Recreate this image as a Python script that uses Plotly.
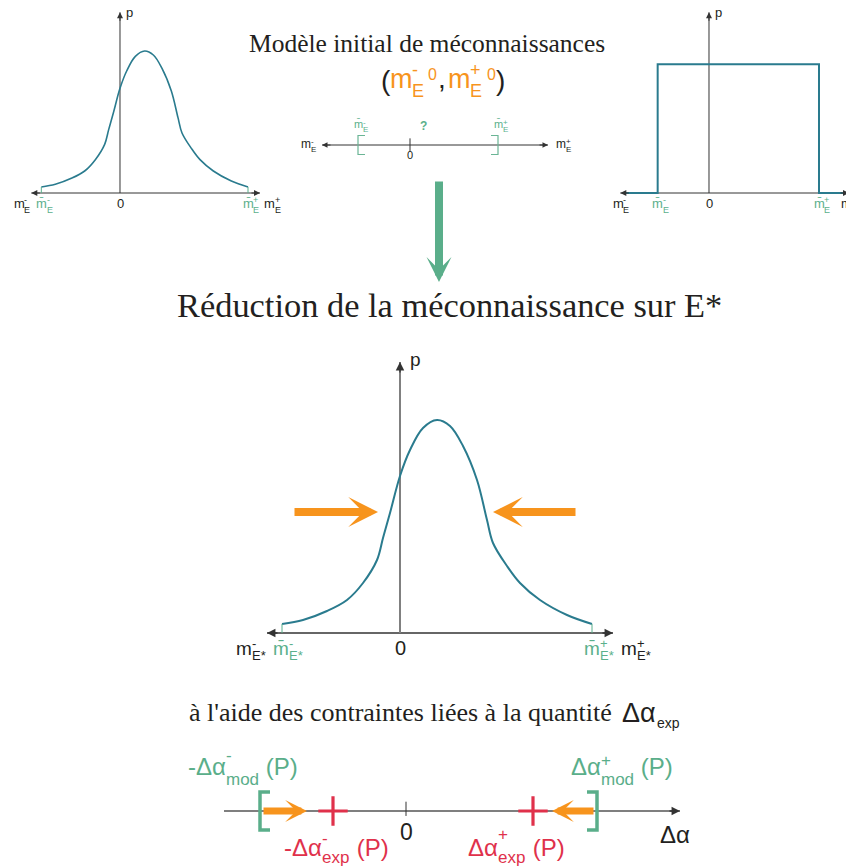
import plotly.graph_objects as go

W, H = 854, 867          # reference picture size
OFF = 8                  # page body margin of the browser
FW, FH = W - OFF, H - OFF   # actual figure size (reaches the window's right/bottom edge)

# ---------------- data ----------------
# shape of the probability density (m, p)
curve_m = [-1.18, -0.97, -0.73, -0.53, -0.37, -0.23, -0.17, -0.10, 0.00, 0.10, 0.23,
           0.37, 0.50, 0.63, 0.77, 0.87, 0.93, 1.07, 1.20, 1.40, 1.67, 1.92]
curve_p = [0.09, 0.13, 0.22, 0.33, 0.50, 0.73, 0.95, 1.20, 1.57, 1.83, 2.05,
           2.13, 2.07, 1.87, 1.53, 1.13, 0.90, 0.67, 0.50, 0.33, 0.18, 0.09]
mbar_bounds = [-1.18, 1.92]          # m̄-, m̄+ of the curved densities
uniform_m = [-1.25, -0.77, -0.77, 1.65, 1.65, 2.08]
uniform_p = [0.0, 0.0, 1.93, 1.93, 0.0, 0.0]
uniform_bounds = [-0.77, 1.65]
mini_bounds = [-0.52, 0.88]          # interval on the small initial axis
mod_bounds = [-1.46, 1.91]           # -Δα_mod-, Δα_mod+
exp_bounds = [-0.73, 1.27]           # -Δα_exp-, Δα_exp+

# ---------------- style ----------------
TEAL = '#2a7b8e'
GREEN = '#5bb08c'
GREEN2 = '#5aae8a'
ORANGE = '#f7941d'
RED = '#e0314b'
INK = '#231f20'
SANS = 'Liberation Sans'
SERIF = 'Liberation Serif'

# panel geometry (in picture pixels): origin, pixels per unit, ranges
PANELS = {
    1: dict(o=(120, 193), s=(66.67, 66.67), xr=(-1.6, 2.35), yr=(-0.3, 2.85)),
    2: dict(o=(709, 193), s=(66.67, 66.67), xr=(-1.6, 2.15), yr=(-0.3, 2.85)),
    3: dict(o=(400, 633), s=(100, 100), xr=(-1.6, 2.35), yr=(-0.3, 2.85)),
    4: dict(o=(410, 145), s=(100, 19), xr=(-1.0, 1.5), yr=(-1.0, 1.0)),
    5: dict(o=(406, 811), s=(100, 19), xr=(-2.0, 2.9), yr=(-1.5, 1.5)),
}


def fx(px):
    return (px - OFF) / FW


def fy(py):
    return 1 - (py - OFF) / FH


def xid(k):
    return 'x' if k == 1 else f'x{k}'


def yid(k):
    return 'y' if k == 1 else f'y{k}'


def X(k, v):
    p = PANELS[k]
    return p['o'][0] + v * p['s'][0]


fig = go.Figure()
layout_axes = {}
for k, p in PANELS.items():
    (ox, oy), (sx, sy) = p['o'], p['s']
    xd = [fx(ox + p['xr'][0] * sx), fx(ox + p['xr'][1] * sx)]
    yd = [fy(oy - p['yr'][0] * sy), fy(oy - p['yr'][1] * sy)]
    xd = [max(0, xd[0]), min(1, xd[1])]
    yd = [max(0, yd[0]), min(1, yd[1])]
    xname = 'xaxis' if k == 1 else f'xaxis{k}'
    yname = 'yaxis' if k == 1 else f'yaxis{k}'
    # recompute ranges so that the clipped domains keep the same scale
    xr = [(xd[0] * FW + OFF - ox) / sx, (xd[1] * FW + OFF - ox) / sx]
    yr = [(oy - ((1 - yd[0]) * FH + OFF)) / sy, (oy - ((1 - yd[1]) * FH + OFF)) / sy]
    layout_axes[xname] = dict(domain=xd, range=xr, visible=False,
                              anchor=yid(k), fixedrange=True)
    layout_axes[yname] = dict(domain=yd, range=yr, visible=False,
                              anchor=xid(k), fixedrange=True)

shapes = []
ann = []


def line(k, x0, y0, x1, y1, color, width):
    shapes.append(dict(type='line', xref=xid(k), yref=yid(k), x0=x0, y0=y0, x1=x1, y1=y1,
                       line=dict(color=color, width=width), layer='below'))


def head(k, x, y, dx, dy, color, width=1, size=1.2, style=2):
    ann.append(dict(xref=xid(k), yref=yid(k), x=x, y=y, ax=dx, ay=dy, axref='pixel',
                    ayref='pixel', text='', showarrow=True, arrowhead=style,
                    arrowsize=size, arrowwidth=width, arrowcolor=color, standoff=0))


def fat_arrow(k, x_tail, x_tip, y, color, width, size):
    ann.append(dict(xref=xid(k), yref=yid(k), x=x_tip, y=y, ax=x_tail, ay=y,
                    axref=xid(k), ayref=yid(k), text='', showarrow=True, arrowhead=3,
                    arrowsize=size, arrowwidth=width, arrowcolor=color, standoff=0))


CW = {'m': .833, 'E': .667, '*': .389, '-': .333, '+': .584, '0': .556, '(': .333,
      ')': .333, ',': .278, ' ': .278, 'P': .667, 'Δ': .668, 'α': .6, 'e': .556,
      'x': .5, 'p': .556, 'o': .556, 'd': .556, '?': .611, '\u0304': 0}


def tw(s, size):
    return sum(CW.get(c, .556) for c in s) * size


def txt(x, base, s, color, size, family=SANS, anchor='left'):
    ann.append(dict(xref='paper', yref='paper', x=fx(x), y=fy(base - 0.35 * size),
                    text=s, showarrow=False, xanchor=anchor, yanchor='middle', borderpad=0,
                    font=dict(family=family, size=size, color=color)))


def ctxt(x, yc, s, color, size, family=SANS, anchor='left'):
    ann.append(dict(xref='paper', yref='paper', x=fx(x), y=fy(yc),
                    text=s, showarrow=False, xanchor=anchor, yanchor='middle', borderpad=0,
                    font=dict(family=family, size=size, color=color)))


def stacked(x, base, b, sup, sub, color, size, ss, sup_c, sub_b, tail='', anchor='left'):
    wb = tw(b, size)
    ws = max(tw(sup, ss), tw(sub, ss))
    wt = tw(tail, size)
    if anchor == 'center':
        x = x - (wb + ws + wt) / 2
    txt(x, base, b, color, size)
    x1 = x + wb
    ctxt(x1, base - sup_c, sup, color, ss)
    txt(x1, base + sub_b, sub, color, ss)
    if tail:
        txt(x1 + ws, base, tail, color, size)


MBAR = 'm\u0304'

# ---------------- panel 1 : initial density (curve) ----------------
fig.add_trace(go.Scatter(x=curve_m, y=curve_p, mode='lines', xaxis='x', yaxis='y',
                         line=dict(color=TEAL, width=1.6, shape='spline', smoothing=1.0)))
fig.add_trace(go.Scatter(x=[mbar_bounds[0], mbar_bounds[0], None, mbar_bounds[1], mbar_bounds[1]],
                         y=[0, curve_p[0], None, 0, curve_p[-1]], mode='lines', xaxis='x',
                         yaxis='y', line=dict(color=GREEN, width=1)))
# ---------------- panel 2 : initial density (uniform) ----------------
fig.add_trace(go.Scatter(x=uniform_m, y=uniform_p, mode='lines', xaxis='x2', yaxis='y2',
                         line=dict(color=TEAL, width=2)))
# ---------------- panel 3 : reduced density ----------------
fig.add_trace(go.Scatter(x=curve_m, y=curve_p, mode='lines', xaxis='x3', yaxis='y3',
                         line=dict(color=TEAL, width=2, shape='spline', smoothing=1.0)))
fig.add_trace(go.Scatter(x=[mbar_bounds[0], mbar_bounds[0], None, mbar_bounds[1], mbar_bounds[1]],
                         y=[0, curve_p[0], None, 0, curve_p[-1]], mode='lines', xaxis='x3',
                         yaxis='y3', line=dict(color=GREEN, width=1)))
# ---------------- panel 4 : small initial interval ----------------
a, b = mini_bounds
fig.add_trace(go.Scatter(x=[a + 0.07, a, a, a + 0.07, None, b - 0.07, b, b, b - 0.07],
                         y=[0.5, 0.5, -0.5, -0.5, None, 0.5, 0.5, -0.5, -0.5], mode='lines',
                         xaxis='x4', yaxis='y4', line=dict(color='#6ab595', width=1.2)))
# ---------------- panel 5 : Δα axis ----------------
a, b = mod_bounds
fig.add_trace(go.Scatter(x=[a + 0.1, a, a, a + 0.1, None, b - 0.1, b, b, b - 0.1],
                         y=[1, 1, -1, -1, None, 1, 1, -1, -1], mode='lines',
                         xaxis='x5', yaxis='y5', line=dict(color=GREEN2, width=3.5)))
fig.add_trace(go.Scatter(x=exp_bounds, y=[0, 0], mode='markers', xaxis='x5', yaxis='y5',
                         marker=dict(symbol='cross-thin', size=21,
                                     line=dict(color=RED, width=3.2))))

# ---------------- axes (lines + heads) ----------------
for k in (1, 2):
    line(k, -1.33, 0, 2.1, 0, '#333333', 1)
    line(k, 0, 0, 0, 2.71, '#333333', 1)
    head(k, 2.1, 0, -10, 0, '#333333')
    head(k, -1.33, 0, 10, 0, '#333333')
    head(k, 0, 2.71, 0, 10, '#333333')
line(3, -1.33, 0, 2.13, 0, '#333333', 1.3)
line(3, 0, 0, 0, 2.71, '#808080', 2)
head(3, 2.13, 0, -12, 0, '#333333', 1.3, 1.3)
head(3, -1.33, 0, 12, 0, '#333333', 1.3, 1.3)
head(3, 0, 2.71, 0, 12, '#333333', 1.3, 1.3)
line(4, -0.88, 0, 1.38, 0, '#333333', 1)
line(4, 0, -0.35, 0, 0.35, '#333333', 1)
head(4, 1.38, 0, -10, 0, '#333333', 1, 1.1)
head(4, -0.88, 0, 10, 0, '#333333', 1, 1.1)
line(5, -1.82, 0, 2.74, 0, '#555555', 1.3)
line(5, 0, -0.26, 0, 0.49, '#333333', 1)
head(5, 2.74, 0, -12, 0, '#333333', 1.3, 1.3)

# ---------------- fat arrows ----------------
fat_arrow(3, -1.07, -0.22, 1.21, ORANGE, 8, 0.62)
fat_arrow(3, 1.77, 0.93, 1.21, ORANGE, 8, 0.62)
fat_arrow(5, mod_bounds[0] + 0.02, mod_bounds[0] + 0.47, 0, ORANGE, 7, 0.52)
fat_arrow(5, mod_bounds[1] - 0.02, mod_bounds[1] - 0.45, 0, ORANGE, 7, 0.52)
ann.append(dict(xref='paper', yref='paper', x=fx(439), y=fy(282), ax=0, ay=-102,
                axref='pixel', ayref='pixel', text='', showarrow=True, arrowhead=3,
                arrowsize=0.52, arrowwidth=8, arrowcolor=GREEN2, standoff=0))

# ---------------- labels ----------------
# panel 1 & 2
for k, bnds, far in ((1, mbar_bounds, (21, 263)), (2, uniform_bounds, (620, 840))):
    stacked(far[0], 208, 'm', '-', 'E', INK, 13, 9, 8, 5, anchor='center')
    stacked(X(k, bnds[0]) + 2, 208, MBAR, '-', 'E', GREEN, 13, 9, 8, 5, anchor='center')
    txt(X(k, 0), 208, '0', INK, 13, anchor='center')
    stacked(X(k, bnds[1]) + 2, 208, MBAR, '+', 'E', GREEN, 13, 9, 8, 5, anchor='center')
    stacked(far[1], 208, 'm', '+', 'E', INK, 13, 9, 8, 5)
    txt(X(k, 0) + 5, 17, 'p', INK, 13)

# panel 3
stacked(250, 655, 'm', '-', 'E*', INK, 19, 13, 12, 5, anchor='center')
stacked(X(3, mbar_bounds[0]) + 5, 655, MBAR, '-', 'E*', GREEN, 19, 13, 12, 5, anchor='center')
txt(X(3, 0), 655, '0', INK, 20, anchor='center')
stacked(X(3, mbar_bounds[1]) + 6, 655, MBAR, '+', 'E*', GREEN, 19, 13, 12, 5, anchor='center')
stacked(620, 655, 'm', '+', 'E*', INK, 19, 13, 12, 5)
txt(409, 366, 'p', INK, 19)

# panel 4 (mini)
stacked(308, 148, 'm', '-', 'E', INK, 12, 8, 6, 4, anchor='center')
stacked(563, 148, 'm', '+', 'E', INK, 12, 8, 6, 4, anchor='center')
txt(X(4, 0), 159, '0', INK, 11, anchor='center')
stacked(X(4, mini_bounds[0]) + 2, 128, MBAR, '-', 'E', GREEN, 11, 8, 6, 4, anchor='center')
stacked(X(4, mini_bounds[1]) + 2, 128, MBAR, '+', 'E', GREEN, 11, 8, 6, 4, anchor='center')
txt(423, 130, '<b>?</b>', GREEN, 12, anchor='center')

# titles
txt(427, 52, 'Modèle initial de méconnaissances', INK, 25.5, family=SERIF, anchor='center')
txt(380, 90, '(', INK, 28)
stacked(389, 88, 'm', '-', 'E', ORANGE, 27, 18, 18, 9)
txt(427, 80, '0', ORANGE, 16)
txt(437, 88, ',', INK, 28)
stacked(447, 88, 'm', '+', 'E', ORANGE, 27, 18, 18, 9)
txt(486, 80, '0', ORANGE, 16)
txt(495, 90, ')', INK, 28)

txt(449.5, 317, 'Réduction de la méconnaissance sur E*', INK, 34.4, family=SERIF,
    anchor='center')

txt(188, 722, "à l'aide des contraintes liées à la quantité", INK, 26, family=SERIF)
txt(621, 722, 'Δα', INK, 27)
txt(656, 728, 'exp', INK, 14)

# bottom axis labels
txt(X(5, 0), 840, '0', INK, 23, anchor='center')
txt(659, 843, 'Δα', INK, 24)
stacked(187, 775, '-Δα', '-', 'mod', GREEN2, 24, 17, 20, 10, tail=' (P)')
stacked(570, 775, 'Δα', '+', 'mod', GREEN2, 24, 17, 15, 10, tail=' (P)')
stacked(283, 856, '-Δα', '-', 'exp', RED, 24, 17, 18, 7, tail=' (P)')
stacked(467, 856, 'Δα', '+', 'exp', RED, 24, 17, 22, 7, tail=' (P)')

fig.update_layout(width=FW, height=FH, margin=dict(l=0, r=0, t=0, b=0),
                  paper_bgcolor='white', plot_bgcolor='white', showlegend=False,
                  shapes=shapes, annotations=ann, **layout_axes)

fig.write_html('out.html')
